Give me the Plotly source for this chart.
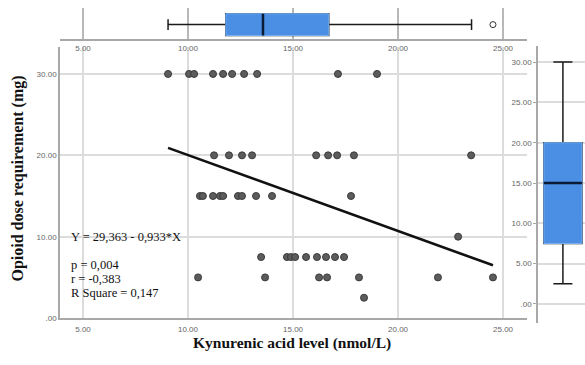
import plotly.graph_objects as go

W, H = 585, 365

# ---- data ----
kyna_30 = [9.05, 10.05, 10.29, 11.19, 11.67, 12.10, 12.67, 13.29, 17.14, 19.00]
kyna_20 = [11.24, 11.95, 12.57, 13.05, 16.10, 16.67, 17.10, 17.90, 23.48]
kyna_15 = [10.57, 10.71, 11.19, 11.52, 11.67, 12.38, 12.57, 13.24, 14.00, 17.76]
kyna_10 = [22.86]
kyna_7_5 = [13.48, 14.71, 14.90, 15.10, 15.62, 16.14, 16.57, 17.00, 17.43]
kyna_5 = [10.48, 13.67, 16.24, 16.62, 18.14, 21.90, 24.52]
kyna_2_5 = [18.38]

dose_levels = [30, 20, 15, 10, 7.5, 5, 2.5]
kyna_groups = [kyna_30, kyna_20, kyna_15, kyna_10, kyna_7_5, kyna_5, kyna_2_5]

kyna = [v for g in kyna_groups for v in g]
dose = [d for d, g in zip(dose_levels, kyna_groups) for _ in g]

intercept = 29.363
slope = -0.933

# box-plot summaries (as drawn in the reference)
kyna_box = dict(lowerfence=9.05, q1=11.8, median=13.57, q3=16.7, upperfence=23.5)
kyna_outliers = [24.52]
dose_box = dict(lowerfence=2.5, q1=7.5, median=15.0, q3=20.0, upperfence=30.0)

x_ticks = [5, 10, 15, 20, 25]
x_tick_labels = ["5.00", "10.00", "15.00", "20.00", "25.00"]
y_ticks = [0, 10, 20, 30]
y_tick_labels = [".00", "10.00", "20.00", "30.00"]
y_box_ticks = [0, 5, 10, 15, 20, 25, 30]
y_box_tick_labels = [".00", "5.00", "10.00", "15.00", "20.00", "25.00", "30.00"]

# ---- styling ----
BOX_FILL = "#4a8fe3"
BOX_EDGE = "#78aef0"
MEDIAN = "#0d1a33"
GRID = "#dcdcdc"
AXIS = "#a8a8a8"
TICKFONT = dict(family="Liberation Sans", size=8, color="#666666")
SERIF = "Liberation Serif"
CLEAR = "rgba(0,0,0,0)"


def px_x(p):
    return p / W


def px_y(p):
    return 1 - p / H


fig = go.Figure()

# main scatter
fig.add_trace(go.Scatter(
    x=kyna, y=dose, mode="markers",
    marker=dict(size=7, color="#5c5c5c", line=dict(color="#3a3a3a", width=1)),
    xaxis="x", yaxis="y", showlegend=False))

# regression line
x_line = [min(kyna), max(kyna)]
y_line = [intercept + slope * v for v in x_line]
fig.add_trace(go.Scatter(
    x=x_line, y=y_line, mode="lines",
    line=dict(color="#111111", width=2.6),
    xaxis="x", yaxis="y", showlegend=False))


def box_traces(stats, orient, xa, ya, width):
    pos = [0]
    common = dict(xaxis=xa, yaxis=ya, showlegend=False, orientation=orient,
                  width=width, hoverinfo="skip")
    if orient == "h":
        common["y"] = pos
    else:
        common["x"] = pos
    out = []
    # whiskers (black)
    out.append(go.Box(q1=[stats["q1"]], median=[stats["median"]], q3=[stats["q3"]],
                      lowerfence=[stats["lowerfence"]], upperfence=[stats["upperfence"]],
                      fillcolor=BOX_FILL, line=dict(color="#1a1a1a", width=1.5),
                      whiskerwidth=0.5, **common))
    # box body (blue)
    out.append(go.Box(q1=[stats["q1"]], median=[stats["median"]], q3=[stats["q3"]],
                      lowerfence=[stats["q1"]], upperfence=[stats["q3"]],
                      fillcolor=BOX_FILL, line=dict(color=BOX_EDGE, width=1),
                      whiskerwidth=0, **common))
    # median line
    out.append(go.Box(q1=[stats["median"]], median=[stats["median"]], q3=[stats["median"]],
                      lowerfence=[stats["median"]], upperfence=[stats["median"]],
                      fillcolor=CLEAR, line=dict(color=MEDIAN, width=2.5),
                      whiskerwidth=0, **common))
    return out


for t in box_traces(kyna_box, "h", "x2", "y2", 1.38):
    fig.add_trace(t)
fig.add_trace(go.Scatter(
    x=kyna_outliers, y=[0] * len(kyna_outliers), mode="markers",
    marker=dict(symbol="circle-open", size=6, color="#333333", line=dict(width=1)),
    xaxis="x2", yaxis="y2", showlegend=False))

for t in box_traces(dose_box, "v", "x3", "y3", 1.62):
    fig.add_trace(t)

x_range = [3.905, 26.14]

fig.update_layout(
    width=W, height=H,
    margin=dict(l=0, r=0, t=0, b=0),
    paper_bgcolor="white", plot_bgcolor=CLEAR,
    xaxis=dict(domain=[px_x(60), px_x(527)], range=x_range, anchor="y",
               tickvals=x_ticks, ticktext=x_tick_labels, tickfont=TICKFONT,
               showgrid=True, gridcolor=GRID, gridwidth=1.5, zeroline=False,
               showline=True, linecolor=AXIS, linewidth=1.5,
               ticks="outside", ticklen=3, tickcolor=CLEAR),
    yaxis=dict(domain=[px_y(322.5), px_y(48)], range=[0, 33.27], anchor="x",
               tickvals=y_ticks, ticktext=y_tick_labels, tickfont=TICKFONT,
               showgrid=True, gridcolor=GRID, gridwidth=1.5, zeroline=False,
               showline=True, linecolor=AXIS, linewidth=1.5, ticks=""),
    xaxis2=dict(domain=[px_x(60), px_x(527)], range=x_range, anchor="y2",
                tickvals=x_ticks, ticktext=x_tick_labels, tickfont=TICKFONT,
                showgrid=True, gridcolor="#b8b8b8", gridwidth=1.5, zeroline=False,
                showline=True, linecolor=AXIS, linewidth=1.5, ticks=""),
    yaxis2=dict(domain=[px_y(40), px_y(8)], range=[-0.94, 1.06], anchor="x2",
                visible=False),
    xaxis3=dict(domain=[px_x(538), 1.0], range=[-1.06, 0.94], anchor="y3",
                visible=False),
    yaxis3=dict(domain=[px_y(327), px_y(47)], range=[-2.3, 31.95], anchor="x3",
                tickvals=y_box_ticks, ticktext=y_box_tick_labels, tickfont=TICKFONT,
                showgrid=True, gridcolor=GRID, gridwidth=1.5, zeroline=False,
                showline=True, linecolor=AXIS, linewidth=1.5,
                ticks="outside", ticklen=3, tickcolor=AXIS),
)

ann_font = dict(family=SERIF, size=12.5, color="#111111")
annotations = [
    dict(text="Y = 29,363 - 0,933*X", x=px_x(69), y=px_y(240)),
    dict(text="p = 0,004", x=px_x(69), y=px_y(269)),
    dict(text="r = -0,383", x=px_x(69), y=px_y(283)),
    dict(text="R Square = 0,147", x=px_x(69), y=px_y(297)),
]
for a in annotations:
    fig.add_annotation(xref="paper", yref="paper", xanchor="left", yanchor="middle",
                       showarrow=False, font=ann_font, **a)

fig.add_annotation(text="<b>Kynurenic acid level (nmol/L)</b>", xref="paper", yref="paper",
                   x=px_x(292), y=px_y(348), xanchor="center", yanchor="middle",
                   showarrow=False, font=dict(family=SERIF, size=15.5, color="#111111"))
fig.add_annotation(text="<b>Opioid dose requirement (mg)</b>", xref="paper", yref="paper",
                   x=px_x(18), y=px_y(181), xanchor="center", yanchor="middle",
                   textangle=-90, showarrow=False,
                   font=dict(family=SERIF, size=16, color="#111111"))

fig.write_html("out.html", config={"displayModeBar": False},
               post_script="document.body.style.margin='0';document.body.style.overflow='hidden';")
